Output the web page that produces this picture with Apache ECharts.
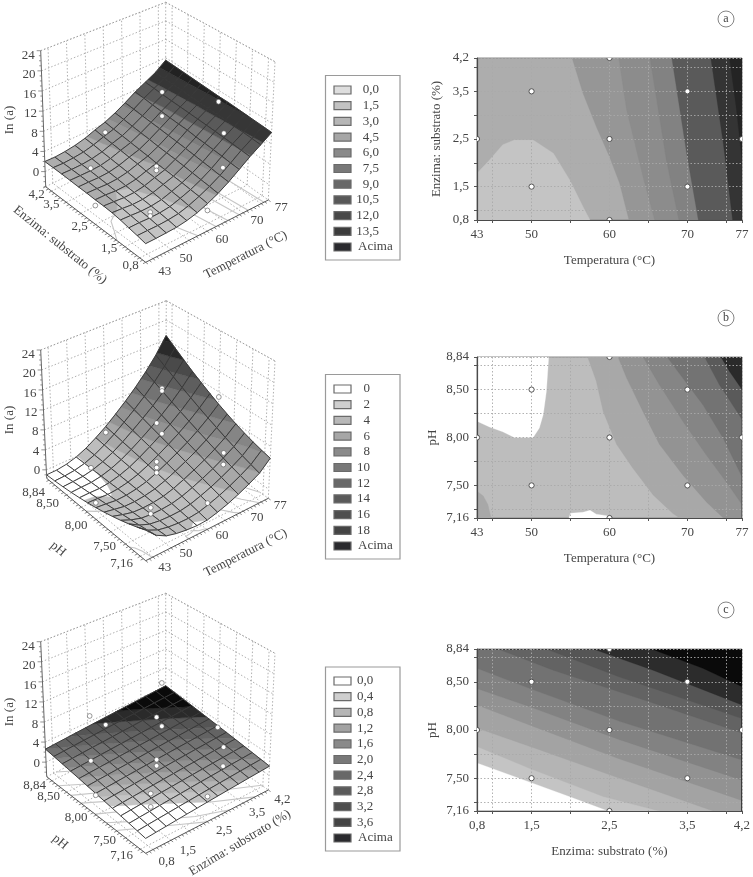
<!DOCTYPE html>
<html><head><meta charset="utf-8">
<style>html,body{margin:0;padding:0;background:#fff}#c{width:753px;height:877px}</style>
<script src="https://cdn.jsdelivr.net/npm/echarts@6/dist/echarts.min.js"></script>
</head><body><div id="c"></div>
<script>
// ---------- tick labels ----------
const tempTicks=[43,50,60,70,77];
const enzTicks=[0.8,1.5,2.5,3.5,4.2];
const phTicks=[7.16,7.5,8,8.5,8.84];
const tempGrid=[45,50,55,60,65,70,75];
const enzGrid=[1,1.5,2,2.5,3,3.5,4];
const phGrid=[7.25,7.5,7.75,8,8.25,8.5,8.75];
const zTicks=[0,4,8,12,16,20,24];
// ---------- legends ----------
const levelsA=['0,0','1,5','3,0','4,5','6,0','7,5','9,0','10,5','12,0','13,5','Acima'];
const levelsB=['0','2','4','6','8','10','12','14','16','18','Acima'];
const levelsC=['0,0','0,4','0,8','1,2','1,6','2,0','2,4','2,8','3,2','3,6','Acima'];
const legendColorsA=['#dedede','#c2c2c2','#b6b6b6','#a6a6a6','#8a8a8a','#787878','#686868','#585858','#484848','#3c3c3c','#2a2a2e'];
const legendColorsB=['#ffffff','#cfcfcf','#b8b8b8','#a6a6a6','#8a8a8a','#787878','#686868','#5a5a5a','#4e4e4e','#444444','#2a2a2e'];
const legendColorsC=['#ffffff','#cfcfcf','#b6b6b6','#a2a2a2','#8a8a8a','#787878','#686868','#5a5a5a','#4e4e4e','#444444','#2a2a2e'];
// ---------- surface values (one list per x step, from low to high y) ----------
const surfaceA=[
[0.40,0.74,1.03,1.35,1.57,1.68,1.70,1.80,1.83,1.90,1.97,2.00,2.00],
[0.42,0.75,1.05,1.25,1.42,1.55,1.67,1.73,1.80,1.87,1.90,1.91,1.92],
[0.50,0.73,0.96,1.12,1.23,1.38,1.50,1.62,1.73,1.85,1.92,2.02,2.07],
[0.60,0.83,1.00,1.15,1.27,1.42,1.55,1.72,1.83,1.95,2.10,2.23,2.35],
[0.90,1.06,1.24,1.42,1.61,1.75,1.87,2.08,2.22,2.38,2.52,2.71,2.83],
[1.42,1.63,1.86,2.04,2.23,2.38,2.50,2.72,2.87,3.05,3.22,3.38,3.58],
[2.20,2.42,2.57,2.75,2.87,2.98,3.10,3.32,3.47,3.65,3.83,3.98,4.20],
[3.17,3.37,3.53,3.71,3.89,4.05,4.17,4.30,4.50,4.66,4.82,5.02,5.15],
[4.40,4.53,4.73,4.90,5.07,5.24,5.40,5.53,5.70,5.83,5.97,6.17,6.30],
[5.85,5.98,6.18,6.33,6.47,6.58,6.80,6.87,6.98,7.13,7.27,7.47,7.60],
[7.37,7.49,7.63,7.75,7.87,7.98,8.07,8.15,8.24,8.32,8.43,8.58,8.70],
[8.72,8.83,8.95,9.07,9.13,9.22,9.32,9.35,9.46,9.57,9.68,9.73,9.83],
[10.20,10.32,10.43,10.55,10.67,10.78,10.80,10.92,11.03,11.15,11.27,11.38,11.50]];
const surfaceB=[
[3.60,2.98,2.39,1.85,1.36,0.91,0.50,0.14,-0.17,-0.45,-0.67,-0.86,-1.00],
[1.83,1.56,1.29,1.04,0.79,0.54,0.31,0.08,-0.14,-0.35,-0.56,-0.77,-0.97],
[0.83,0.71,0.57,0.45,0.32,0.19,0.07,-0.06,-0.18,-0.30,-0.42,-0.55,-0.67],
[0.35,0.32,0.28,0.25,0.22,0.18,0.15,0.11,0.07,0.03,-0.01,-0.06,-0.10],
[0.07,0.12,0.19,0.25,0.31,0.37,0.43,0.49,0.56,0.62,0.68,0.74,0.80],
[-0.08,0.08,0.24,0.41,0.58,0.75,0.92,1.10,1.27,1.45,1.64,1.83,2.02],
[0.00,0.28,0.57,0.85,1.13,1.42,1.70,1.98,2.27,2.55,2.83,3.12,3.40],
[0.48,0.83,1.18,1.53,1.90,2.27,2.65,3.04,3.43,3.82,4.23,4.64,5.05],
[1.10,1.50,1.91,2.34,2.78,3.23,3.70,4.19,4.69,5.20,5.74,6.28,6.83],
[1.90,2.32,2.78,3.25,3.76,4.29,4.85,5.45,6.06,6.71,7.38,8.07,8.80],
[2.83,3.30,3.80,4.34,4.92,5.55,6.20,6.91,7.65,8.43,9.26,10.13,11.03],
[3.93,4.44,4.99,5.60,6.26,7.00,7.77,8.61,9.50,10.44,11.44,12.50,13.62],
[5.80,6.21,6.70,7.28,7.96,8.75,9.60,10.58,11.63,12.77,14.02,15.37,16.80]];
const surfaceC=[
[-0.2,0.03,0.27,0.5,0.73,0.97,1.2,1.43,1.67,1.9,2.13,2.37,2.6],
[-0.03,0.2,0.43,0.66,0.89,1.12,1.35,1.58,1.81,2.03,2.26,2.49,2.73],
[0.13,0.36,0.58,0.81,1.04,1.26,1.49,1.72,1.94,2.17,2.4,2.62,2.85],
[0.3,0.52,0.75,0.97,1.19,1.41,1.64,1.86,2.08,2.31,2.53,2.75,2.98],
[0.47,0.69,0.91,1.13,1.35,1.57,1.79,2,2.22,2.44,2.66,2.88,3.1],
[0.63,0.85,1.06,1.28,1.5,1.71,1.93,2.14,2.36,2.58,2.79,3.01,3.23],
[0.8,1.01,1.23,1.44,1.65,1.86,2.08,2.29,2.5,2.71,2.93,3.14,3.35],
[0.97,1.18,1.39,1.6,1.81,2.01,2.22,2.43,2.64,2.85,3.06,3.27,3.48],
[1.13,1.34,1.54,1.75,1.95,2.16,2.37,2.57,2.78,2.98,3.19,3.39,3.6],
[1.3,1.5,1.7,1.91,2.11,2.31,2.51,2.71,2.92,3.12,3.32,3.52,3.73],
[1.47,1.67,1.87,2.06,2.26,2.46,2.66,2.86,3.06,3.25,3.45,3.65,3.85],
[1.63,1.83,2.02,2.22,2.41,2.61,2.8,3,3.19,3.39,3.58,3.78,3.98],
[1.8,1.99,2.18,2.38,2.57,2.76,2.95,3.14,3.33,3.53,3.72,3.91,4.1]];
// ---------- observed points [x, y, z] ----------
const points3dA=[[50,1.5,1.1],[50,1.5,0.4],[60,2.5,2.45],[60,2.5,1.67],[70,3.5,10],[70,3.5,5],[70,1.5,9.66],[70,1.5,2.9],[50,3.5,1.3],[43,2.5,0.6],[77,2.5,9.7],[60,0.8,0.9],[60,4.2,2.1]];
const points3dB=[[70,8.5,10.9],[70,8.5,10.4],[70,8.5,1.8],[70,7.5,6.4],[70,7.5,4.2],[50,8.5,1.4],[50,7.5,2.6],[50,7.5,1.5],[60,8,3.8],[60,8,2.7],[60,8,1.7],[60,8,11.2],[43,8,1.4],[77,8,11],[60,7.16,3.05],[60,8.84,2.2]];
const points3dC=[[1.5,8.5,9.8],[1.5,8.5,0.9],[3.5,8.5,10],[3.5,8.5,1],[3.5,7.5,1.45],[3.5,7.5,5.2],[1.5,7.5,3],[1.5,7.5,0.5],[2.5,8,2],[2.5,8,0.8],[2.5,8,10.4],[0.8,8,0.85],[4.2,8,2.6],[2.5,7.16,1.85],[2.5,8.84,1.8]];
const designA=[[50,1.5],[50,3.5],[70,1.5],[70,3.5],[60,2.5],[43,2.5],[77,2.5],[60,0.8],[60,4.2]];
const designB=[[50,7.5],[50,8.5],[70,7.5],[70,8.5],[60,8],[43,8],[77,8],[60,7.16],[60,8.84]];
const designC=[[1.5,7.5],[1.5,8.5],[3.5,7.5],[3.5,8.5],[2.5,8],[0.8,8],[4.2,8],[2.5,7.16],[2.5,8.84]];
// ---------- iso-lines ----------
const isoA0=[[43,1.78],[44.6,2.06],[46.3,2.38],[47.8,2.48],[50.2,2.48],[52.8,2.2],[54.9,1.64],[56.6,1.08],[57.5,0.8]];
const isoA2=[[62.5,0.8],[61.3,1.57],[60,2.13],[58.3,2.76],[56.6,3.46],[55.2,4.2]];
const isoA3=[[65.8,0.8],[64.3,1.71],[62.2,3.11],[61.2,4.2]];
const isoA4=[[68.9,0.8],[67.3,2.06],[65.2,4.2]];
const isoA5=[[71.4,0.8],[69.9,2.2],[68,4.2]];
const isoA6=[[75.8,0.8],[74.6,2.41],[73,4.2]];
const isoA7=[[77,2.06],[76.3,3.11],[75.4,4.2]];
const isoB0a=[[43,8.17],[44.6,8.11],[46.3,8.06],[47.8,8],[50.2,8],[51,8.1],[51.5,8.24],[51.9,8.48],[52.2,8.84]];
const isoB0b=[[54.8,7.16],[55,7.21],[56.6,7.22],[57.5,7.24],[58.3,7.2],[59.9,7.18],[60.1,7.16]];
const isoB1c=[[43,7.44],[43.8,7.39],[44.4,7.3],[44.8,7.16]];
const isoB2=[[57.2,8.84],[58.3,8.59],[59.2,8.27],[60.9,7.93],[63,7.68],[65.6,7.4],[68.1,7.21],[69,7.16]];
const isoB3=[[61.1,8.84],[62.2,8.62],[64.3,8.27],[66.4,7.93],[69.4,7.61],[72.4,7.33],[74.6,7.16]];
const isoB4=[[64.3,8.84],[66.4,8.55],[69.4,8.17],[72.4,7.82],[75.4,7.49],[77,7.3]];
const isoB5=[[67.4,8.84],[69.4,8.62],[72,8.34],[74.6,7.99],[77,7.59]];
const isoB6=[[72.2,8.84],[74.1,8.55],[77,8.19]];
const isoB7=[[74.3,8.84],[75.4,8.69],[77,8.5]];
const isoC0=[[0.8,7.66],[1.48,7.46],[1.99,7.31],[2.49,7.16]];
const isoC1=[[0.8,7.83],[1.48,7.6],[2.42,7.31],[3.14,7.16]];
const isoC2=[[0.8,8.02],[1.48,7.83],[2.63,7.5],[3.83,7.16]];
const isoC3=[[0.8,8.26],[1.48,8.05],[2.63,7.7],[4.2,7.27]];
const isoC4=[[0.8,8.43],[1.48,8.24],[2.63,7.9],[4.2,7.48]];
const isoC5=[[0.8,8.64],[1.48,8.43],[2.63,8.09],[4.2,7.69]];
const isoC6=[[1.07,8.84],[1.78,8.62],[3.06,8.28],[4.2,7.97]];
const isoC7=[[1.69,8.84],[2.63,8.55],[4.2,8.12]];
const isoC8=[[2.29,8.84],[3.06,8.62],[4.2,8.26]];
const isoC9=[[3.04,8.84],[3.7,8.64],[4.2,8.45]];
// ---------- surface band limits ----------
const bandsA=[0,1.5,3,4.5,6,7.5,9,10.5];
const bandsB=[0,2,4,6,8,10,12,14,16];
const bandsC=[0.8,1.1,1.4,1.7,2,2.3,2.6,2.9,3.2,3.5];

// ---------- styles and layout ----------
const FF='"Liberation Serif","DejaVu Serif",serif', TXT='#454545';
const bandColorsA=['#dcdcdc','#c4c4c4','#adadad','#969696','#8a8a8a','#7c7c7c','#5a5a5a','#363636','#222222'];
const bandColorsB=['#ffffff','#bdbdbd','#a8a8a8','#939393','#858585','#737373','#5e5e5e','#4a4a4a','#2a2a2a','#1e1e1e'];
const bandColorsC=['#ffffff','#c4c4c4','#b4b4b4','#a3a3a3','#929292','#828282','#727272','#636363','#555555','#2a2a2a','#0a0a0a'];
const num1=v=>v.toFixed(1).replace('.',','), num2=v=>v.toFixed(2).replace('.',','), num0=v=>String(v);
const CELLS=12;

const panels3d=[
{surface:surfaceA,pts:points3dA,bands:bandsA,colors:bandColorsA,xr:[43,77],yr:[0.8,4.2],zr:[-3,24],
 bottom:{F:[145.7,262.3],R:[268.3,200],L:[45.7,186.7],B:[165.7,127.3]},
 top:{F:[145,114],R:[275,61.7],L:[40.7,50.7],B:[165.7,2.3]},
 xTicks:tempTicks,yTicks:enzTicks,xFmt:num0,yFmt:num1,xGrid:tempGrid,yGrid:enzGrid,xStep:1,yStep:0.1,
 xNudge:[[19,9],[15,9],[15,8],[14,8],[13,8]],yNudge:[[-15,3],[-16,2],[-16,2],[-15,2],[-9,8]],
 isos:[isoA0,isoA2,isoA3,isoA4,isoA5,isoA6,isoA7],
 titles:[['Enzima: substrato (%)',60,245,-39],['Temperatura (°C)',245.7,255,27],['In (a)',9.3,120,90]]},
{surface:surfaceB,pts:points3dB,bands:bandsB,colors:bandColorsB,xr:[43,77],yr:[7.16,8.84],zr:[-1.7,24],
 bottom:{F:[145.7,560.7],R:[268.3,498.3],L:[46.7,478.3],B:[165.7,425]},
 top:{F:[145,412.5],R:[275,361],L:[40.7,350],B:[166.3,300.7]},
 xTicks:tempTicks,yTicks:phTicks,xFmt:num0,yFmt:num2,xGrid:tempGrid,yGrid:phGrid,xStep:1,yStep:0.05,
 xNudge:[[19,7],[15,6],[15,6],[14,6],[12,7]],yNudge:[[-24,3],[-21,3],[-20,6],[-19,9],[-13,14]],
 isos:[isoB0a,isoB0b,isoB1c,isoB2,isoB3,isoB4,isoB5,isoB6,isoB7],
 titles:[['pH',58,549,-40],['Temperatura (°C)',245.7,553,27],['In (a)',9.3,420,90]]},
{surface:surfaceC,pts:points3dC,bands:bandsC,colors:bandColorsC,xr:[0.8,4.2],yr:[7.16,8.84],zr:[-2.9,24],
 bottom:{F:[145.7,853.3],R:[268.3,790],L:[46.7,776.7],B:[165.7,718.3]},
 top:{F:[145,705],R:[275,653.3],L:[40.7,641.7],B:[165.7,593.3]},
 xTicks:enzTicks,yTicks:phTicks,xFmt:num1,yFmt:num2,xGrid:enzGrid,yGrid:phGrid,xStep:0.1,yStep:0.05,
 xNudge:[[21,8],[17,10],[17,9],[14,10],[14,10]],yNudge:[[-24,2],[-21,3],[-20,3],[-18,4],[-12,9]],
 isos:[isoC0,isoC1,isoC2,isoC3,isoC4,isoC5,isoC6,isoC7,isoC8,isoC9],
 titles:[['pH',60,842,-40],['Enzima: substrato (%)',240,843,31],['In (a)',9.3,712,90]]}
];

function project(p,x,y,z){
  const u=(x-p.xr[0])/(p.xr[1]-p.xr[0]), v=(y-p.yr[0])/(p.yr[1]-p.yr[0]), w=(z-p.zr[0])/(p.zr[1]-p.zr[0]);
  const bil=(c,k)=>c.F[k]*(1-u)*(1-v)+c.R[k]*u*(1-v)+c.L[k]*(1-u)*v+c.B[k]*u*v;
  return [0,1].map(k=>bil(p.bottom,k)*(1-w)+bil(p.top,k)*w);
}
function clipBand(poly,lo,hi){
  const cut=(pts,keep,limit)=>{const out=[];
    for(let i=0;i<pts.length;i++){const a=pts[i],b=pts[(i+1)%pts.length],ka=keep(a.z),kb=keep(b.z);
      if(ka)out.push(a);
      if(ka!==kb){const t=(limit-a.z)/(b.z-a.z);
        out.push({z:limit,p:[a.p[0]+t*(b.p[0]-a.p[0]),a.p[1]+t*(b.p[1]-a.p[1])]});}
    }return out;};
  let r=poly;
  if(lo>-Infinity)r=cut(r,z=>z>=lo,lo);
  if(r.length&&hi<Infinity)r=cut(r,z=>z<hi,hi);
  return r;
}
function render3d(p,api){
  const xAt=i=>p.xr[0]+i*(p.xr[1]-p.xr[0])/CELLS, yAt=j=>p.yr[0]+j*(p.yr[1]-p.yr[0])/CELLS;
  const S=(x,y,z)=>api.coord(project(p,x,y,z));
  const ch=[];
  const line=(pts,stroke,lw,dash)=>ch.push({type:'polyline',shape:{points:pts},style:{fill:'none',stroke,lineWidth:lw,lineDash:dash||null},silent:true});
  const [x0,x1]=p.xr,[y0,y1]=p.yr,[z0,z1]=p.zr;
  const dotted=(a,b)=>line([a,b],'#9c9c9c',0.8,[1.5,2]);
  // walls and floor
  p.xGrid.forEach(x=>{dotted(S(x,y0,z0),S(x,y1,z0));dotted(S(x,y1,z0),S(x,y1,z1));});
  p.yGrid.forEach(y=>{dotted(S(x0,y,z0),S(x1,y,z0));dotted(S(x1,y,z0),S(x1,y,z1));});
  zTicks.forEach(z=>{dotted(S(x0,y1,z),S(x1,y1,z));dotted(S(x1,y1,z),S(x1,y0,z));});
  [[x0,y1,z1,x1,y1,z1],[x1,y1,z1,x1,y0,z1],[x1,y1,z0,x1,y1,z1],[x1,y0,z0,x1,y0,z1],[x0,y1,z0,x1,y1,z0],[x1,y1,z0,x1,y0,z0]]
    .forEach(e=>dotted(S(e[0],e[1],e[2]),S(e[3],e[4],e[5])));
  // contour lines on the floor
  p.isos.forEach(iso=>line(iso.map(q=>S(q[0],q[1],z0)),'#c6c6c6',1.1));
  // axes
  line([S(x0,y1,z0),S(x0,y0,z0),S(x1,y0,z0)],'#555',1);
  line([S(x0,y1,z0),S(x0,y1,z1)],'#666',1);
  const xs=x1-x0, ys=y1-y0;
  for(let k=Math.ceil(x0/p.xStep-1e-6);k*p.xStep<=x1+1e-6;k++){const x=k*p.xStep;
    line([S(x,y0,z0),S(x,y0-ys*0.022,z0)],'#555',0.7);}
  for(let k=Math.ceil(y0/p.yStep-1e-6);k*p.yStep<=y1+1e-6;k++){const y=k*p.yStep;
    line([S(x0,y,z0),S(x0-xs*0.022,y,z0)],'#555',0.7);}
  for(let z=Math.ceil(z0);z<=z1;z++){const a=S(x0,y1,z);line([a,[a[0]-(z%4===0?4:2),a[1]]],'#666',0.7);}
  // surface, back to front
  const bandLim=[-Infinity].concat(p.bands,[Infinity]);
  for(let i=CELLS-1;i>=0;i--)for(let j=CELLS-1;j>=0;j--){
    const quad=[[i,j],[i+1,j],[i+1,j+1],[i,j+1]].map(c=>{const z=p.surface[c[0]][c[1]];return {z,p:S(xAt(c[0]),yAt(c[1]),z)};});
    for(let k=0;k<bandLim.length-1;k++){
      const poly=clipBand(quad,bandLim[k],bandLim[k+1]);
      if(poly.length>2)ch.push({type:'polygon',shape:{points:poly.map(q=>q.p)},style:{fill:p.colors[k],stroke:p.colors[k],lineWidth:0.5},silent:true});
    }
    ch.push({type:'polygon',shape:{points:quad.map(q=>q.p)},style:{fill:'none',stroke:'#383838',lineWidth:0.95},silent:true});
  }
  // observed points
  p.pts.forEach(q=>{const c=S(q[0],q[1],q[2]);
    ch.push({type:'circle',shape:{cx:c[0],cy:c[1],r:2.4},style:{fill:'#fff',stroke:'#555',lineWidth:0.6},silent:true});});
  // labels
  const txt=(t,x,y,rot,al)=>ch.push({type:'text',x,y,rotation:(rot||0)*Math.PI/180,silent:true,
    style:{text:t,font:'13px '+FF,fill:TXT,align:al||'center',verticalAlign:'middle'}});
  zTicks.forEach(z=>{const a=S(x0,y1,z);txt(String(z),a[0]-6,a[1]+1+z/24*3.5,0,'right');});
  p.xTicks.forEach((x,i)=>{const a=S(x,y0,z0);txt(p.xFmt(x),a[0]+p.xNudge[i][0],a[1]+p.xNudge[i][1]);});
  p.yTicks.forEach((y,i)=>{const a=S(x0,y,z0);txt(p.yFmt(y),a[0]+p.yNudge[i][0],a[1]+p.yNudge[i][1]);});
  p.titles.forEach(t=>{const a=api.coord([t[1],t[2]]);txt(t[0],a[0],a[1],t[3]);});
  return {type:'group',children:ch};
}

// ---------- contour maps ----------
const endA=[[77,4.2],[77,0.8]];
const contourA=[[isoA0,[[43,0.8]],'#c4c4c4'],[isoA2,endA,'#969696'],[isoA3,endA,'#8c8c8c'],[isoA4,endA,'#828282'],[isoA5,endA,'#5a5a5a'],[isoA6,endA,'#343434'],[isoA7,endA,'#242424']];
const endB=[[77,7.16],[77,8.84]];
const contourB=[[isoB0a,[[43,8.84]],'#ffffff'],[isoB0b,[],'#ffffff'],[isoB1c,[[43,7.16]],'#a8a8a8'],[isoB2,endB,'#a8a8a8'],[isoB3,endB,'#939393'],[isoB4,endB,'#858585'],[isoB5,endB,'#737373'],[isoB6,endB,'#5a5a5a'],[isoB7,endB,'#2a2a2a']];
const endC=[[4.2,7.16],[4.2,8.84],[0.8,8.84]];
const contourC=[[isoC0,endC,'#c4c4c4'],[isoC1,endC,'#b4b4b4'],[isoC2,endC,'#a3a3a3'],[isoC3,endC,'#929292'],[isoC4,endC,'#828282'],[isoC5,endC,'#727272'],[isoC6,endC,'#636363'],[isoC7,endC,'#555555'],[isoC8,endC,'#2c2c2c'],[isoC9,endC,'#0a0a0a']];
const contourSeries=(polys,gi)=>({type:'custom',xAxisIndex:gi,yAxisIndex:gi,z:2,silent:true,animation:false,clip:true,
  data:polys.map((_,i)=>[i]),
  renderItem:(params,api)=>{const q=polys[params.dataIndex];
    return {type:'polygon',shape:{points:q[0].concat(q[1]).map(c=>api.coord(c))},style:{fill:q[2],stroke:q[2],lineWidth:0.3}};}});
// design points are cut by the plot frame where they sit on its edge
const dots=(d,gi)=>({type:'custom',xAxisIndex:gi,yAxisIndex:gi,z:5,silent:true,animation:false,clip:true,data:d,encode:{x:0,y:1},
  renderItem:(params,api)=>{const c=api.coord([api.value(0),api.value(1)]);
    return {type:'circle',shape:{cx:c[0],cy:c[1],r:2.6},style:{fill:'#fff',stroke:'#444',lineWidth:0.9}};}});

const gridTop=[58,357,649], gridH=[162,161,162];
const grids=gridTop.map((t,i)=>({left:477,width:265,top:t,height:gridH[i],show:true,backgroundColor:['#adadad','#bdbdbd','#ffffff'][i],borderColor:'#8a8a8a',borderWidth:1}));
grids.push({left:0,top:0,width:753,height:877,show:false});
const axisBase=(over)=>Object.assign({type:'value',z:3,
  axisLine:{show:true,onZero:false,lineStyle:{color:'#4a4a4a',width:1.2}},
  splitLine:{show:true,lineStyle:{color:'#a9a9a9',type:[1.5,2],width:0.9}},
  nameLocation:'middle',nameTextStyle:{fontFamily:FF,fontSize:13,color:TXT}},over);
const xAxis=(g,r,labels,grid,fmt,name)=>axisBase({gridIndex:g,min:r[0],max:r[1],name,nameGap:34,
  axisTick:{show:true,length:3,lineStyle:{color:'#555'},customValues:[r[0]].concat(grid,[r[1]])},
  axisLabel:{customValues:labels,formatter:fmt,fontFamily:FF,fontSize:13,color:TXT,margin:8,showMinLabel:true,showMaxLabel:true,hideOverlap:false}});
const yAxis=(g,r,labels,grid,fmt,name,gap)=>axisBase({gridIndex:g,min:r[0],max:r[1],name,nameGap:gap,nameRotate:90,
  axisTick:{show:true,length:3,lineStyle:{color:'#555'},customValues:[r[0]].concat(grid,[r[1]])},
  axisLabel:{customValues:labels,formatter:fmt,fontFamily:FF,fontSize:13,color:TXT,margin:8,showMinLabel:true,showMaxLabel:true,hideOverlap:false}});

// ---------- legends and panel letters ----------
const graphic=[];
function legend(top,bottom,firstY,labels,colors,align,tx){
  graphic.push({type:'rect',shape:{x:325.5,y:top,width:74.5,height:bottom-top},style:{fill:'#fff',stroke:'#9a9a9a',lineWidth:1.2},silent:true});
  labels.forEach((l,i)=>{const y=firstY+i*15.7,ac=l==='Acima';
    graphic.push({type:'rect',shape:{x:334,y:y-4,width:17,height:8},style:{fill:colors[i],stroke:'#6a6a6a',lineWidth:1.2},silent:true});
    graphic.push({type:'text',x:ac?358:tx,y,silent:true,style:{text:l,font:'13px '+FF,fill:TXT,align:ac?'left':align,verticalAlign:'middle'}});
  });
}
legend(75.5,260,90,levelsA,legendColorsA,'right',379);
legend(374.5,559,389,levelsB,legendColorsB,'right',370);
legend(667,851,681,levelsC,legendColorsC,'left',357);
[['a',19],['b',318],['c',610]].forEach(q=>{
  graphic.push({type:'circle',shape:{cx:726,cy:q[1],r:8},style:{fill:'#fff',stroke:'#666',lineWidth:0.8},silent:true});
  graphic.push({type:'text',x:726,y:q[1],silent:true,style:{text:q[0],font:'12px '+FF,fill:TXT,align:'center',verticalAlign:'middle'}});
});

const chart=echarts.init(document.getElementById('c'),null,{renderer:'canvas',width:753,height:877});
chart.setOption({animation:false,backgroundColor:'#fff',grid:grids,graphic:{elements:graphic},
  xAxis:[xAxis(0,[43,77],tempTicks,tempGrid,num0,'Temperatura (°C)'),xAxis(1,[43,77],tempTicks,tempGrid,num0,'Temperatura (°C)'),xAxis(2,[0.8,4.2],enzTicks,enzGrid,num1,'Enzima: substrato (%)'),
    {type:'value',gridIndex:3,min:0,max:753,show:false}],
  yAxis:[yAxis(0,[0.8,4.2],enzTicks,enzGrid,num1,'Enzima: substrato (%)',34),yAxis(1,[7.16,8.84],phTicks,phGrid,num2,'pH',38),yAxis(2,[7.16,8.84],phTicks,phGrid,num2,'pH',38),
    {type:'value',gridIndex:3,min:0,max:877,inverse:true,show:false}],
  series:[contourSeries(contourA,0),contourSeries(contourB,1),contourSeries(contourC,2),dots(designA,0),dots(designB,1),dots(designC,2)]
    .concat(panels3d.map(p=>({type:'custom',xAxisIndex:3,yAxisIndex:3,silent:true,animation:false,clip:false,z:2,data:[[0,0]],
      renderItem:(params,api)=>render3d(p,api)})))
});
</script></body></html>
